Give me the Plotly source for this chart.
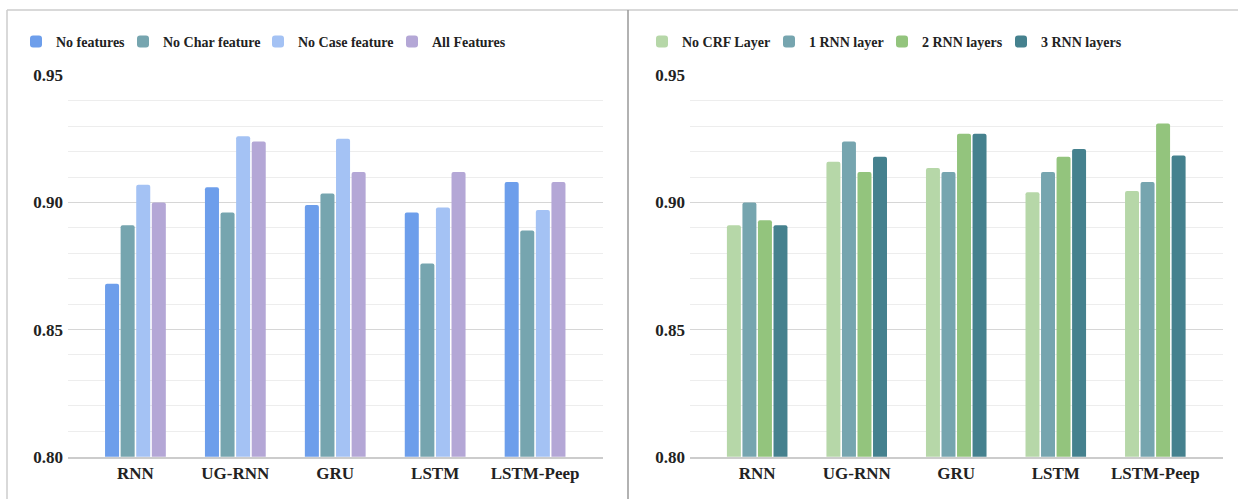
import plotly.graph_objects as go

W, H = 1238, 499

categories = ["RNN", "UG-RNN", "GRU", "LSTM", "LSTM-Peep"]

# Left chart: feature ablation
left_names = ["No features", "No Char feature", "No Case feature", "All Features"]
no_features = [0.868, 0.906, 0.899, 0.896, 0.908]
no_char_feature = [0.891, 0.896, 0.9035, 0.876, 0.889]
no_case_feature = [0.907, 0.926, 0.925, 0.898, 0.897]
all_features = [0.900, 0.924, 0.912, 0.912, 0.908]
left_colors = ["#6d9eeb", "#76a5af", "#a4c2f4", "#b4a7d6"]

# Right chart: layer ablation
right_names = ["No CRF Layer", "1 RNN layer", "2 RNN layers", "3 RNN layers"]
no_crf_layer = [0.891, 0.916, 0.9135, 0.904, 0.9045]
rnn_1_layer = [0.900, 0.924, 0.912, 0.912, 0.908]
rnn_2_layers = [0.893, 0.912, 0.927, 0.918, 0.931]
rnn_3_layers = [0.891, 0.918, 0.927, 0.921, 0.9185]
right_colors = ["#b6d7a8", "#76a5af", "#93c47d", "#45818e"]

y_ticks = [0.80, 0.85, 0.90, 0.95]

# legend entry positions (left edge of each entry, px)
left_leg_x = [16, 123, 258, 392]
right_leg_x = [642, 769, 882, 1001]

FONT = "Liberation Serif"
TXT = "#222222"


def px_x(p):
    return p / W


def px_y(p):
    return 1 - p / H


legfont = dict(family=FONT, size=14, color=TXT, weight="bold")

fig = go.Figure()
legends = {}
k = 0
for names, series, colors, lxs, xa, ya in [
    (left_names, [no_features, no_char_feature, no_case_feature, all_features],
     left_colors, left_leg_x, "x", "y"),
    (right_names, [no_crf_layer, rnn_1_layer, rnn_2_layers, rnn_3_layers],
     right_colors, right_leg_x, "x2", "y2"),
]:
    for name, vals, col, lx in zip(names, series, colors, lxs):
        k += 1
        lid = "legend" if k == 1 else f"legend{k}"
        fig.add_trace(go.Bar(x=categories, y=vals, name=name, marker_color=col,
                             marker_line_width=0, marker_cornerradius=2,
                             xaxis=xa, yaxis=ya, legend=lid, offsetgroup=name))
        legends[lid] = dict(orientation="h", x=px_x(lx), y=px_y(42),
                            xanchor="left", yanchor="middle", font=legfont,
                            bgcolor="rgba(0,0,0,0)", borderwidth=0,
                            itemclick=False, itemdoubleclick=False)

ydom = [px_y(456.7), px_y(75.3)]

yax = dict(range=[0.80, 0.95], tickvals=y_ticks, tickformat=".2f",
           showgrid=True, gridcolor="#d6d6d6", gridwidth=1,
           minor=dict(dtick=0.01, showgrid=True, gridcolor="#ededed", gridwidth=1),
           zeroline=False, showline=False, ticks="", ticklabelstandoff=4,
           tickfont=dict(family=FONT, size=17, color=TXT, weight="bold"),
           domain=ydom, fixedrange=True)

xax = dict(range=[-0.675, 4.68], showgrid=False, zeroline=False,
           showline=True, linecolor="#cccccc", linewidth=2, ticks="",
           tickfont=dict(family=FONT, size=17, color=TXT, weight="bold"),
           fixedrange=True)

fig.update_layout(
    width=W, height=H,
    margin=dict(l=0, r=0, t=0, b=0, autoexpand=False),
    paper_bgcolor="white", plot_bgcolor="white",
    barmode="group", bargap=0.376, bargroupgap=0.1,
    showlegend=True,
    xaxis=dict(xax, domain=[px_x(68), px_x(603)], anchor="y"),
    yaxis=dict(yax, anchor="x"),
    xaxis2=dict(xax, domain=[px_x(690), px_x(1223)], anchor="y2"),
    yaxis2=dict(yax, anchor="x2"),
    shapes=[
        dict(type="line", xref="paper", yref="paper", x0=px_x(7), x1=1,
             y0=px_y(10), y1=px_y(10), line=dict(color="#cccccc", width=1.5)),
        dict(type="line", xref="paper", yref="paper", x0=px_x(7), x1=px_x(7),
             y0=0, y1=px_y(10), line=dict(color="#cccccc", width=1.5)),
        dict(type="line", xref="paper", yref="paper", x0=px_x(628), x1=px_x(628),
             y0=0, y1=px_y(10), line=dict(color="#999999", width=1.5)),
    ],
)
fig.update_layout(**legends)

fig.write_html("out.html", config={"displayModeBar": False},
               post_script="document.body.style.margin='0';document.body.style.overflow='hidden';")
